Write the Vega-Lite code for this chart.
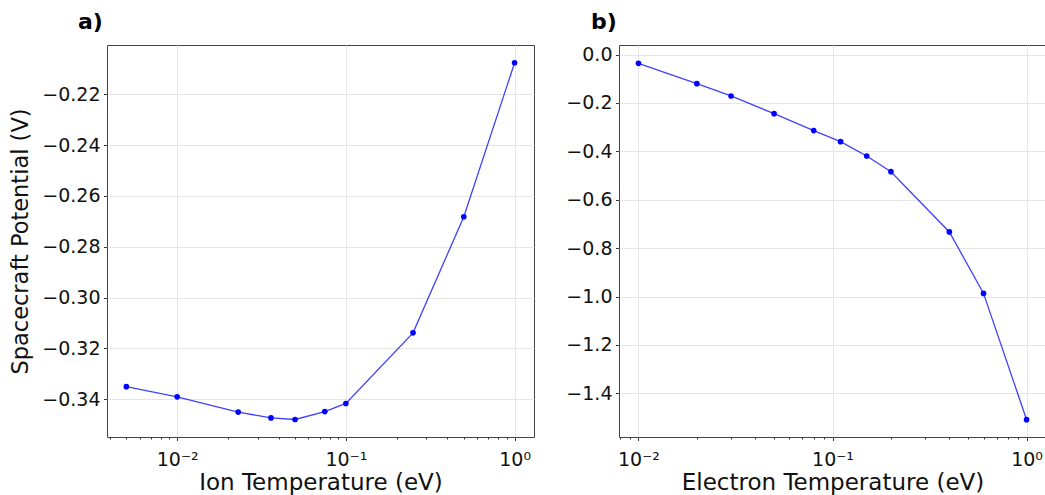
{
  "$schema": "https://vega.github.io/schema/vega-lite/v6.json",
  "padding": {"left": 9, "top": 10, "right": 0, "bottom": 0},
  "background": "white",
  "bounds": "flush",
  "spacing": 85,
  "config": {
    "view": {"stroke": "#444444", "strokeWidth": 1},
    "font": "DejaVu Sans",
    "axis": {
      "domain": false,
      "labelFont": "DejaVu Sans",
      "labelFontSize": 19,
      "labelColor": "#111111",
      "titleFont": "DejaVu Sans",
      "titleFontWeight": "normal",
      "titleColor": "#111111",
      "tickColor": "#333333",
      "tickWidth": 1,
      "gridColor": "#e6e6e6",
      "gridWidth": 1
    }
  },
  "datasets": {
    "ion": [
      {"T": 0.005, "V": -0.3351},
      {"T": 0.01, "V": -0.3391},
      {"T": 0.023, "V": -0.3451},
      {"T": 0.036, "V": -0.3474},
      {"T": 0.05, "V": -0.3480},
      {"T": 0.075, "V": -0.3449},
      {"T": 0.1, "V": -0.3417},
      {"T": 0.25, "V": -0.3139},
      {"T": 0.5, "V": -0.2682},
      {"T": 1.0, "V": -0.2076}
    ],
    "electron": [
      {"T": 0.01, "V": -0.036},
      {"T": 0.02, "V": -0.120},
      {"T": 0.03, "V": -0.171},
      {"T": 0.05, "V": -0.244},
      {"T": 0.08, "V": -0.314},
      {"T": 0.11, "V": -0.360},
      {"T": 0.15, "V": -0.419},
      {"T": 0.2, "V": -0.484},
      {"T": 0.4, "V": -0.733},
      {"T": 0.6, "V": -0.987},
      {"T": 1.0, "V": -1.509}
    ]
  },
  "hconcat": [
    {
      "width": 427,
      "height": 392,
      "title": {"text": "a)", "anchor": "start", "frame": "group", "dx": -29, "fontSize": 22, "fontWeight": "bold", "baseline": "alphabetic", "offset": -6, "color": "#000000", "font": "DejaVu Sans"},
      "data": {"name": "ion"},
      "encoding": {
        "x": {
          "field": "T", "type": "quantitative",
          "scale": {"type": "log", "domain": [0.00384, 1.303], "nice": false},
          "axis": {
            "values": [0.004, 0.005, 0.006, 0.007, 0.008, 0.009, 0.01, 0.02, 0.03, 0.04, 0.05, 0.06, 0.07, 0.08, 0.09, 0.1, 0.2, 0.3, 0.4, 0.5, 0.6, 0.7, 0.8, 0.9, 1],
            "labelExpr": "datum.value == 0.01 ? '10⁻²' : datum.value == 0.1 ? '10⁻¹' : datum.value == 1 ? '10⁰' : ''",
            "labelOverlap": false,
            "labelFlush": false,
            "tickSize": {"condition": {"test": "datum.value == 0.01 || datum.value == 0.1 || datum.value == 1", "value": 3.5}, "value": 2},
            "gridOpacity": {"condition": {"test": "datum.value == 0.01 || datum.value == 0.1 || datum.value == 1", "value": 1}, "value": 0},
            "labelPadding": 10,
            "title": "Ion Temperature (eV)",
            "titleFontSize": 23,
            "titlePadding": 2
          }
        },
        "y": {
          "field": "V", "type": "quantitative",
          "scale": {"domain": [-0.3549, -0.2006], "nice": false, "zero": false},
          "axis": {
            "values": [-0.34, -0.32, -0.30, -0.28, -0.26, -0.24, -0.22],
            "format": ".2f",
            "tickSize": 3.5,
            "labelPadding": 3.5,
            "title": "Spacecraft Potential (V)",
            "titleFontSize": 22.5,
            "titlePadding": 9
          }
        }
      },
      "layer": [
        {"mark": {"type": "line", "color": "#0000ff", "opacity": 0.75, "strokeWidth": 1.3}},
        {"mark": {"type": "point", "filled": true, "color": "#0000ff", "opacity": 1, "size": 32}}
      ]
    },
    {
      "width": 427,
      "height": 392,
      "title": {"text": "b)", "anchor": "start", "frame": "group", "dx": -28, "fontSize": 22, "fontWeight": "bold", "baseline": "alphabetic", "offset": -6, "color": "#000000", "font": "DejaVu Sans"},
      "data": {"name": "electron"},
      "encoding": {
        "x": {
          "field": "T", "type": "quantitative",
          "scale": {"type": "log", "domain": [0.00794, 1.259], "nice": false},
          "axis": {
            "values": [0.008, 0.009, 0.01, 0.02, 0.03, 0.04, 0.05, 0.06, 0.07, 0.08, 0.09, 0.1, 0.2, 0.3, 0.4, 0.5, 0.6, 0.7, 0.8, 0.9, 1],
            "labelExpr": "datum.value == 0.01 ? '10⁻²' : datum.value == 0.1 ? '10⁻¹' : datum.value == 1 ? '10⁰' : ''",
            "labelOverlap": false,
            "labelFlush": false,
            "tickSize": {"condition": {"test": "datum.value == 0.01 || datum.value == 0.1 || datum.value == 1", "value": 3.5}, "value": 2},
            "gridOpacity": {"condition": {"test": "datum.value == 0.01 || datum.value == 0.1 || datum.value == 1", "value": 1}, "value": 0},
            "labelPadding": 10,
            "title": "Electron Temperature (eV)",
            "titleFontSize": 23,
            "titlePadding": 2
          }
        },
        "y": {
          "field": "V", "type": "quantitative",
          "scale": {"domain": [-1.5806, 0.0397], "nice": false, "zero": false},
          "axis": {
            "values": [-1.4, -1.2, -1.0, -0.8, -0.6, -0.4, -0.2, 0.0],
            "format": ".1f",
            "tickSize": 3.5,
            "labelPadding": 3.5,
            "title": null
          }
        }
      },
      "layer": [
        {"mark": {"type": "line", "color": "#0000ff", "opacity": 0.75, "strokeWidth": 1.3}},
        {"mark": {"type": "point", "filled": true, "color": "#0000ff", "opacity": 1, "size": 32}}
      ]
    }
  ]
}
